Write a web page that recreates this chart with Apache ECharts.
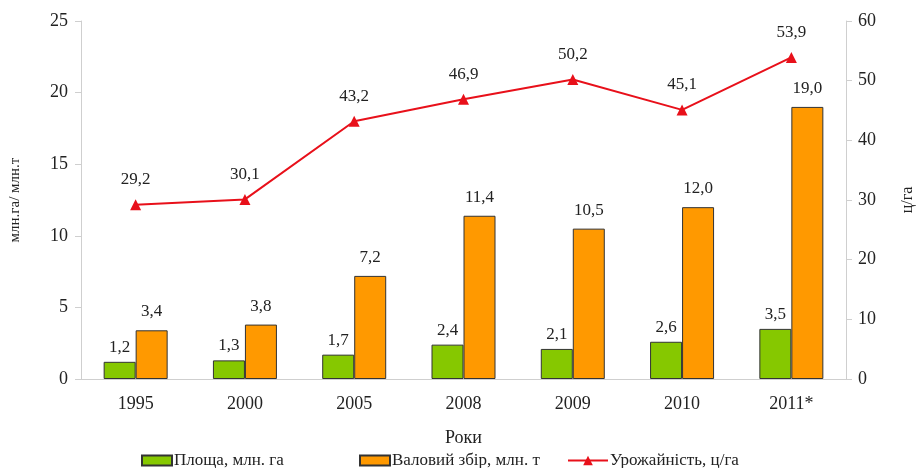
<!DOCTYPE html>
<html>
<head>
<meta charset="utf-8">
<script src="https://cdn.jsdelivr.net/npm/echarts@6/dist/echarts.min.js"></script>
<style>
html,body{margin:0;padding:0;background:#fff;overflow:hidden;}
#chart{width:924px;height:468px;}
</style>
</head>
<body>
<div id="chart"></div>
<script>
// роки
var years = ['1995', '2000', '2005', '2008', '2009', '2010', '2011*'];
// площа, млн. га
var area = [1.2, 1.3, 1.7, 2.4, 2.1, 2.6, 3.5];
// валовий збір, млн. т
var harvest = [3.4, 3.8, 7.2, 11.4, 10.5, 12.0, 19.0];
// урожайність, ц/га
var yieldHa = [29.2, 30.1, 43.2, 46.9, 50.2, 45.1, 53.9];

var serif = 'Liberation Serif, Times New Roman, serif';
var txt = '#222';

function comma(p) {
    return p.value.toFixed(1).replace('.', ',');
}

var chart = echarts.init(document.getElementById('chart'));

chart.setOption({
    animation: false,
    textStyle: {fontFamily: serif},
    grid: {left: 80, right: 71, top: 21, bottom: 89},
    legend: [
        {
            data: [{name: 'Площа, млн. га', icon: 'rect'}],
            left: 136, top: 447,
            itemWidth: 30, itemHeight: 10,
            textStyle: {fontFamily: serif, fontSize: 17, color: txt, padding: [0, 0, 0, -3]}
        },
        {
            data: [{name: 'Валовий збір, млн. т', icon: 'rect'}],
            left: 354, top: 447,
            itemWidth: 30, itemHeight: 10,
            textStyle: {fontFamily: serif, fontSize: 17, color: txt, padding: [0, 0, 0, -3]}
        },
        {
            data: ['Урожайність, ц/га'],
            left: 562, top: 447,
            itemWidth: 40, itemHeight: 12,
            textStyle: {fontFamily: serif, fontSize: 17, color: txt, padding: [0, 0, 0, -3]}
        }
    ],
    xAxis: {
        type: 'category',
        data: years,
        name: 'Роки',
        nameLocation: 'middle',
        nameGap: 50,
        nameTextStyle: {fontFamily: serif, fontSize: 18, color: txt},
        axisLine: {lineStyle: {color: '#cfcfcf'}},
        axisTick: {length: 5, lineStyle: {color: '#cfcfcf'}},
        axisLabel: {fontFamily: serif, fontSize: 18, color: txt, margin: 16}
    },
    yAxis: [
        {
            type: 'value',
            min: 0, max: 25, interval: 5,
            name: 'млн.га/ млн.т',
            nameLocation: 'middle',
            nameRotate: 90,
            nameGap: 58,
            nameTextStyle: {fontFamily: serif, fontSize: 15, color: txt},
            axisLine: {show: true, lineStyle: {color: '#cfcfcf'}},
            axisTick: {show: true, length: 6, lineStyle: {color: '#cfcfcf'}},
            splitLine: {show: false},
            axisLabel: {fontFamily: serif, fontSize: 18, color: txt, margin: 13}
        },
        {
            type: 'value',
            min: 0, max: 60, interval: 10,
            name: 'ц/га',
            nameLocation: 'middle',
            nameRotate: 90,
            nameGap: 54,
            nameTextStyle: {fontFamily: serif, fontSize: 16, color: txt},
            axisLine: {show: true, lineStyle: {color: '#cfcfcf'}},
            axisTick: {show: true, length: 6, lineStyle: {color: '#cfcfcf'}},
            splitLine: {show: false},
            axisLabel: {fontFamily: serif, fontSize: 18, color: txt, margin: 12}
        }
    ],
    series: [
        {
            name: 'Площа, млн. га',
            type: 'bar',
            data: area,
            barWidth: 32,
            barGap: '0%',
            itemStyle: {color: '#86c800', borderColor: '#333', borderWidth: 1},
            label: {show: true, position: 'top', distance: 6, formatter: comma,
                    fontFamily: serif, fontSize: 17, color: txt}
        },
        {
            name: 'Валовий збір, млн. т',
            type: 'bar',
            data: harvest,
            barWidth: 32,
            barGap: '0%',
            itemStyle: {color: '#ff9900', borderColor: '#333', borderWidth: 1},
            label: {show: true, position: 'top', distance: 10, formatter: comma,
                    fontFamily: serif, fontSize: 17, color: txt}
        },
        {
            name: 'Урожайність, ц/га',
            type: 'line',
            yAxisIndex: 1,
            data: yieldHa,
            symbol: 'triangle',
            symbolSize: 11,
            lineStyle: {color: '#e8101a', width: 2},
            itemStyle: {color: '#e8101a'},
            label: {show: true, position: 'top', distance: 11, formatter: comma,
                    fontFamily: serif, fontSize: 17, color: txt}
        }
    ]
});
</script>
</body>
</html>
